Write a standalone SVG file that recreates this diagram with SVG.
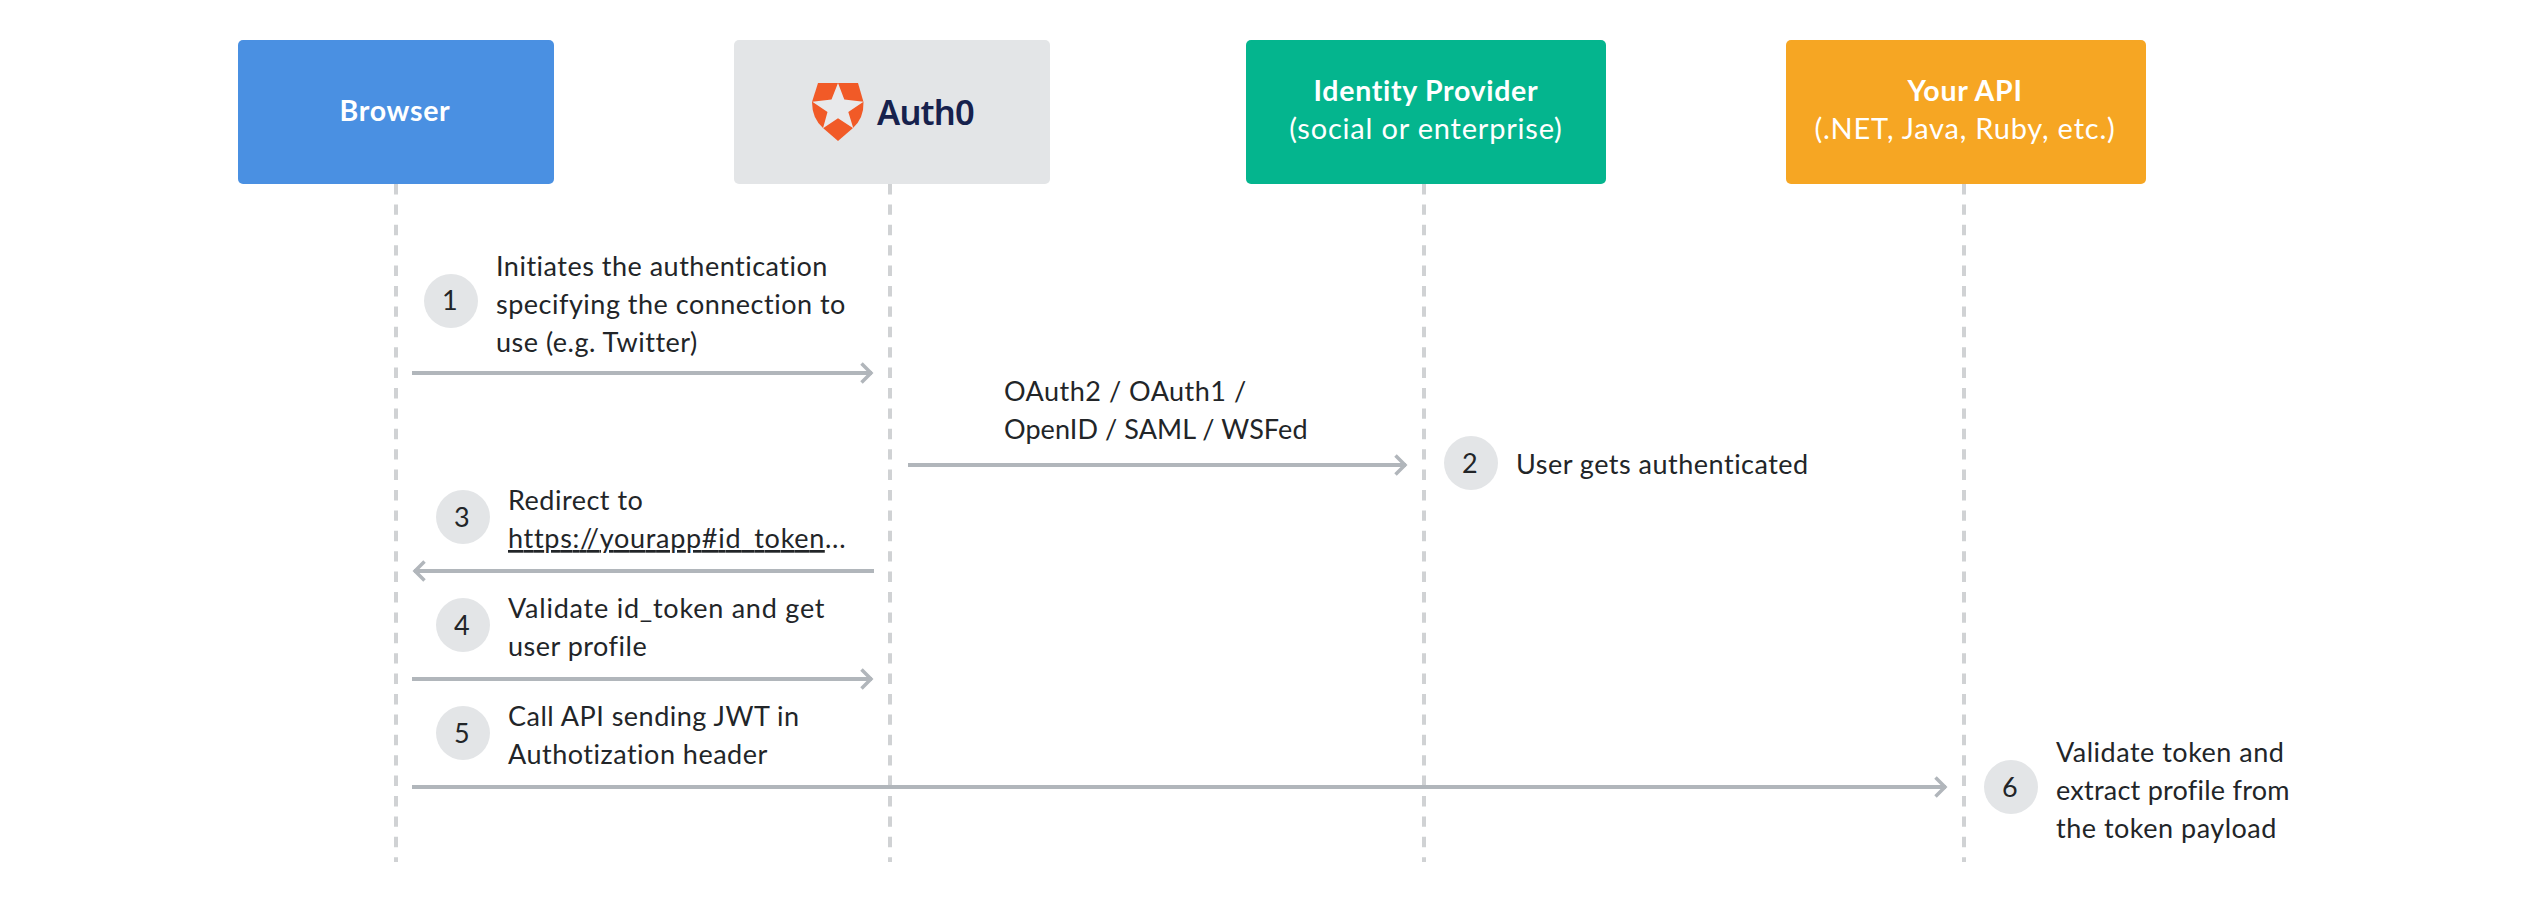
<svg xmlns="http://www.w3.org/2000/svg" width="2538" height="900" viewBox="0 0 2538 900">
<style>
text{font-family:"Lato","Noto Sans",sans-serif;font-size:27px;fill:#222528;letter-spacing:.5px}
.h{fill:#fff;font-weight:700;font-size:28.5px;letter-spacing:.7px;text-anchor:middle}
.s{fill:#fff;font-weight:400;font-size:29px;letter-spacing:.8px;text-anchor:middle}
.n{text-anchor:middle}
.l{stroke:#d0d2d4;stroke-width:4;stroke-dasharray:10.4 10}
.a{stroke:#b1b6bb;stroke-width:4;fill:none;marker-end:url(#ah)}
circle{fill:#e3e5e7}
</style>
<defs><marker id="ah" markerUnits="userSpaceOnUse" markerWidth="16" markerHeight="24" refX="13.5" refY="12" orient="auto"><path d="M3 2.5L12.5 12L3 21.5" fill="none" stroke="#b1b6bb" stroke-width="3.5"/></marker></defs>
<rect width="2538" height="900" fill="#fff"/>
<g id="lifelines">
<line class="l" x1="396" y1="184" x2="396" y2="862"/>
<line class="l" x1="890" y1="184" x2="890" y2="862"/>
<line class="l" x1="1424" y1="184" x2="1424" y2="862"/>
<line class="l" x1="1964" y1="184" x2="1964" y2="862"/>
</g>
<g id="connectors">
<line class="a" x1="412" y1="373" x2="872" y2="373"/>
<line class="a" x1="908" y1="465" x2="1406" y2="465"/>
<line class="a" x1="874" y1="571" x2="414" y2="571"/>
<line class="a" x1="412" y1="679" x2="872" y2="679"/>
<line class="a" x1="412" y1="787" x2="1946" y2="787"/>
</g>
<g id="browser"><rect x="238" y="40" width="316" height="144" rx="5" fill="#4a90e2"/><text class="h" x="395" y="121">Browser</text></g>
<g id="auth0"><rect x="734" y="40" width="316" height="144" rx="5" fill="#e3e5e7"/>
<path d="M818 83H858L863.5 102Q864 118 853 128L838 141L823 128Q812 118 812 102Z" fill="#f15a27"/>
<path d="M838 83L844.3 99.5L863.5 101.7L848.3 112L853.3 128.3L838 118.3L823 128.3L827.5 112L812.3 101.7L831.5 99.5Z" fill="#e8e9eb"/>
<text x="877" y="125" style="font-family:'Noto Sans',sans-serif;font-size:34.5px;font-weight:600;fill:#16214d;letter-spacing:-.8px">Auth0</text></g>
<g id="idp"><rect x="1246" y="40" width="360" height="144" rx="5" fill="#04b58e"/><text class="h" x="1426" y="101">Identity Provider</text><text class="s" x="1426" y="139">(social or enterprise)</text></g>
<g id="api"><rect x="1786" y="40" width="360" height="144" rx="5" fill="#f6a623"/><text class="h" x="1965" y="101">Your API</text><text class="s" x="1965" y="139">(.NET, Java, Ruby, etc.)</text></g>
<g id="step1"><circle cx="451" cy="301" r="27"/><text class="n" x="450" y="310">1</text><text x="496" y="276">Initiates the authentication</text><text x="496" y="314">specifying the connection to</text><text x="496" y="352">use (e.g. Twitter)</text></g>
<g id="oauth-label"><text x="1004" y="401">OAuth2 / OAuth1 /</text><text x="1004" y="439" textLength="304">OpenID / SAML / WSFed</text></g>
<g id="step2"><circle cx="1471" cy="463" r="27"/><text class="n" x="1470" y="473">2</text><text x="1516" y="474">User gets authenticated</text></g>
<g id="step3"><circle cx="463" cy="517" r="27"/><text class="n" x="462" y="527">3</text><text x="508" y="510">Redirect to</text><text x="508" y="548" textLength="338"><tspan text-decoration="underline">https://yourapp#id_token</tspan>...</text></g>
<g id="step4"><circle cx="463" cy="625" r="27"/><text class="n" x="462" y="635">4</text><text x="508" y="618" textLength="317">Validate id_token and get</text><text x="508" y="656">user profile</text></g>
<g id="step5"><circle cx="463" cy="733" r="27"/><text class="n" x="462" y="743">5</text><text x="508" y="726">Call API sending JWT in</text><text x="508" y="764">Authotization header</text></g>
<g id="step6"><circle cx="2011" cy="787" r="27"/><text class="n" x="2010" y="797">6</text><text x="2056" y="762">Validate token and</text><text x="2056" y="800" textLength="234">extract profile from</text><text x="2056" y="838">the token payload</text></g>
</svg>
